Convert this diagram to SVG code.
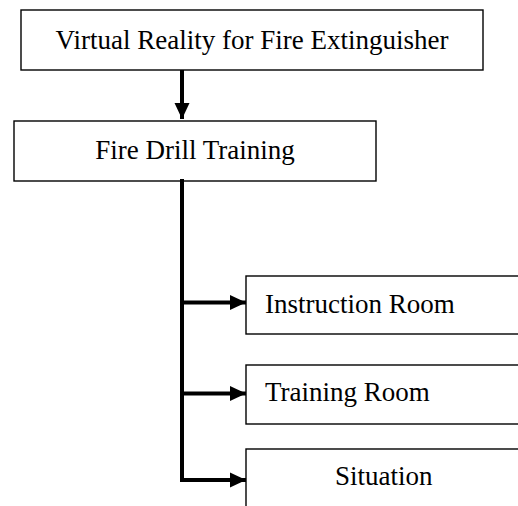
<svg xmlns="http://www.w3.org/2000/svg" width="518" height="506" viewBox="0 0 518 506">
<style>
.box{fill:#fff;stroke:#000;stroke-width:1.4}
.lbl{font-family:"Liberation Serif","Times New Roman",serif;font-size:27px;fill:#000}
.c{text-anchor:middle}
.conn{stroke:#000;stroke-width:4;fill:none}
</style>
<defs>
<marker id="ah" markerUnits="userSpaceOnUse" markerWidth="16" markerHeight="16" viewBox="0 0 16 16" refX="16" refY="8" orient="auto">
<path d="M0,0.5 L16,8 L0,15.5 Z" fill="#000"/>
</marker>
</defs>
<rect width="518" height="506" fill="#fff"/>
<g id="n1"><rect class="box" x="21" y="10" width="462" height="60"/><text class="lbl c" x="252" y="48.5">Virtual Reality for Fire Extinguisher</text></g>
<g id="n2"><rect class="box" x="14" y="121" width="362" height="60"/><text class="lbl c" x="195" y="158.5">Fire Drill Training</text></g>
<g id="n3"><rect class="box" x="246" y="276" width="290" height="58"/><text class="lbl" x="265" y="313">Instruction Room</text></g>
<g id="n4"><rect class="box" x="246" y="365" width="290" height="59"/><text class="lbl" x="265" y="401">Training Room</text></g>
<g id="n5"><rect class="box" x="246" y="449" width="290" height="80"/><text class="lbl" x="335" y="485">Situation</text></g>
<g id="connectors">
<line class="conn" x1="182" y1="70" x2="182" y2="119" marker-end="url(#ah)"/>
<line class="conn" x1="182" y1="179" x2="182" y2="482"/>
<line class="conn" x1="180" y1="302.5" x2="246" y2="302.5" marker-end="url(#ah)"/>
<line class="conn" x1="180" y1="393.5" x2="246" y2="393.5" marker-end="url(#ah)"/>
<line class="conn" x1="180" y1="480" x2="246" y2="480" marker-end="url(#ah)"/>
</g>
</svg>
